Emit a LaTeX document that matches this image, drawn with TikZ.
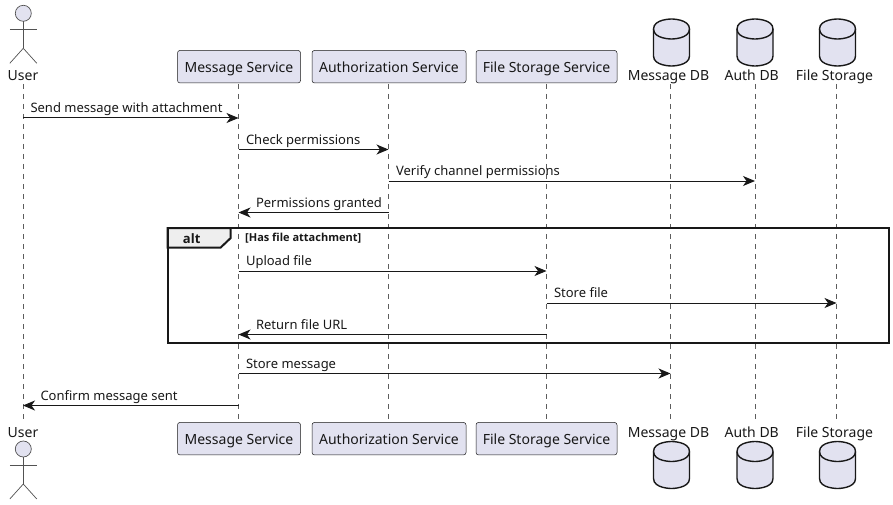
\documentclass[tikz,border=0pt]{standalone}
\usepackage{fontspec}
\setmainfont{Noto Sans}
\newfontfamily\framefont{Open Sans}
\usetikzlibrary{arrows.meta}
\definecolor{partfill}{HTML}{E2E2F0}
\definecolor{inkline}{HTML}{181818}
\definecolor{tabfill}{HTML}{EEEEEE}
\newcommand{\actorfig}[2]{
    \draw[actorline, fill=partfill] (#1,#2) circle (8);
    \draw[actorline] (#1,#2+8) -- (#1,#2+35) (#1-13.5,#2+16) -- (#1+13.5,#2+16);
    \draw[actorline] (#1-13.5,#2+50) -- (#1,#2+35) -- (#1+13.5,#2+50);
}
\newcommand{\dbfig}[2]{
    \draw[dbline, fill=partfill] (#1-18,#2+10) .. controls (#1-18,#2) and (#1,#2) .. (#1,#2)
        .. controls (#1,#2) and (#1+18,#2) .. (#1+18,#2+10) -- (#1+18,#2+37)
        .. controls (#1+18,#2+47) and (#1,#2+47) .. (#1,#2+47)
        .. controls (#1,#2+47) and (#1-18,#2+47) .. (#1-18,#2+37) -- cycle;
    \draw[dbline] (#1-18,#2+10) .. controls (#1-18,#2+20) and (#1,#2+20) .. (#1,#2+20)
        .. controls (#1,#2+20) and (#1+18,#2+20) .. (#1+18,#2+10);
}
\tikzset{
    every node/.style={text=inkline},
    partbox/.style={draw=inkline, line width=0.5pt, fill=partfill, rounded corners=2.5pt, minimum height=32.5pt, inner sep=0pt, text height=12pt, text depth=0.6pt, font=\fontsize{14}{16}\selectfont},
    partname/.style={inner sep=0pt, anchor=base, font=\fontsize{14}{16}\selectfont},
    dbline/.style={draw=inkline, line width=1.4pt},
    lifeline/.style={draw=inkline!70, line width=0.5pt, dash pattern=on 5pt off 5pt},
    actorline/.style={draw=inkline!75, line width=0.7pt},
    msg/.style={-{Stealth[length=12pt, width=10pt, inset=3.5pt]}, draw=inkline, line width=1pt},
    msgtext/.style={anchor=base west, inner sep=0pt, pos=0, yshift=5.3pt, xshift=7pt, font=\fontsize{13}{15}\selectfont},
    backtext/.style={msgtext, pos=1, xshift=10pt},
}
\begin{document}
\begin{tikzpicture}[x=1pt, y=-1pt]
    \useasboundingbox (0,0) rectangle (893,505);
    % lifelines
    \foreach \part/\xpos in {user/23, msgsvc/238.5, authsvc/388.5, filesvc/546.5, msgdb/670.5, authdb/755, filestore/836.5} {
        \coordinate (\part_top) at (\xpos,84);
        \coordinate (\part_bot) at (\xpos,422);
        \draw[lifeline] (\part_top) -- (\part_bot);
    }
    % top row
    \actorfig{23.3}{13.3}
    \node (user_name) [partname] at (23,80.7) {User};
    \node (msgsvc) [partbox, minimum width=123pt] at (239,66.7) {Message Service};
    \node (authsvc) [partbox, minimum width=154pt] at (389,66.7) {Authorization Service};
    \node (filesvc) [partbox, minimum width=141pt] at (546.5,66.7) {File Storage Service};
    \dbfig{671.5}{19}
    \dbfig{755}{19}
    \dbfig{837.5}{19}
    \node (msgdb_name) [partname] at (668.5,80.7) {Message DB};
    \node (authdb_name) [partname] at (751.7,80.7) {Auth DB};
    \node (filestore_name) [partname] at (834.5,80.7) {File Storage};

    % bottom row
    \actorfig{23.3}{449}
    \node (user_foot) [partname] at (23,437.3) {User};
    \node (msgsvc_foot) [partbox, minimum width=123pt] at (239,438.7) {Message Service};
    \node (authsvc_foot) [partbox, minimum width=154pt] at (389,438.7) {Authorization Service};
    \node (filesvc_foot) [partbox, minimum width=141pt] at (546.5,438.7) {File Storage Service};
    \node (msgdb_foot) [partname] at (668.5,437.3) {Message DB};
    \node (authdb_foot) [partname] at (751.7,437.3) {Auth DB};
    \node (filestore_foot) [partname] at (834.5,437.3) {File Storage};
    \dbfig{671.5}{441.5}
    \dbfig{755}{441.5}
    \dbfig{837.5}{441.5}

    % alt frame
    \draw[draw=inkline, line width=2pt, fill=tabfill] (167.5,228) -- (230.7,228) -- (230.7,238) -- (220.7,247.5) -- (167.5,247.5) -- cycle;
    \draw[draw=inkline, line width=2pt] (167.5,228) rectangle (889,342.5);
    \node (alt_tag) [inner sep=0pt, font=\framefont\fontsize{13}{15}\selectfont\bfseries] at (191.7,238.5) {alt};
    \node (alt_guard) [anchor=west, inner sep=0pt, font=\framefont\fontsize{11}{13}\selectfont\bfseries] at (245,238.5) {[Has file attachment]};

    % message rows
    \foreach \rowname/\ypos in {r1/118, r2/149.5, r3/181, r4/212.5, r5/271, r6/303, r7/334.5, r8/373.5, r9/405.5}
        \coordinate (\rowname) at (0,\ypos);
    \draw[msg] (user_top |- r1) -- node[msgtext] (t1) {Send message with attachment} (msgsvc_top |- r1);
    \draw[msg] (msgsvc_top |- r2) -- node[msgtext] (t2) {Check permissions} (authsvc_top |- r2);
    \draw[msg] (authsvc_top |- r3) -- node[msgtext] (t3) {Verify channel permissions} (authdb_top |- r3);
    \draw[msg] (authsvc_top |- r4) -- node[backtext] (t4) {Permissions granted} (msgsvc_top |- r4);
    \draw[msg] (msgsvc_top |- r5) -- node[msgtext] (t5) {Upload file} (filesvc_top |- r5);
    \draw[msg] (filesvc_top |- r6) -- node[msgtext] (t6) {Store file} (filestore_top |- r6);
    \draw[msg] (filesvc_top |- r7) -- node[backtext] (t7) {Return file URL} (msgsvc_top |- r7);
    \draw[msg] (msgsvc_top |- r8) -- node[msgtext] (t8) {Store message} (msgdb_top |- r8);
    \draw[msg] (msgsvc_top |- r9) -- node[backtext] (t9) {Confirm message sent} (user_top |- r9);
\end{tikzpicture}
\end{document}
